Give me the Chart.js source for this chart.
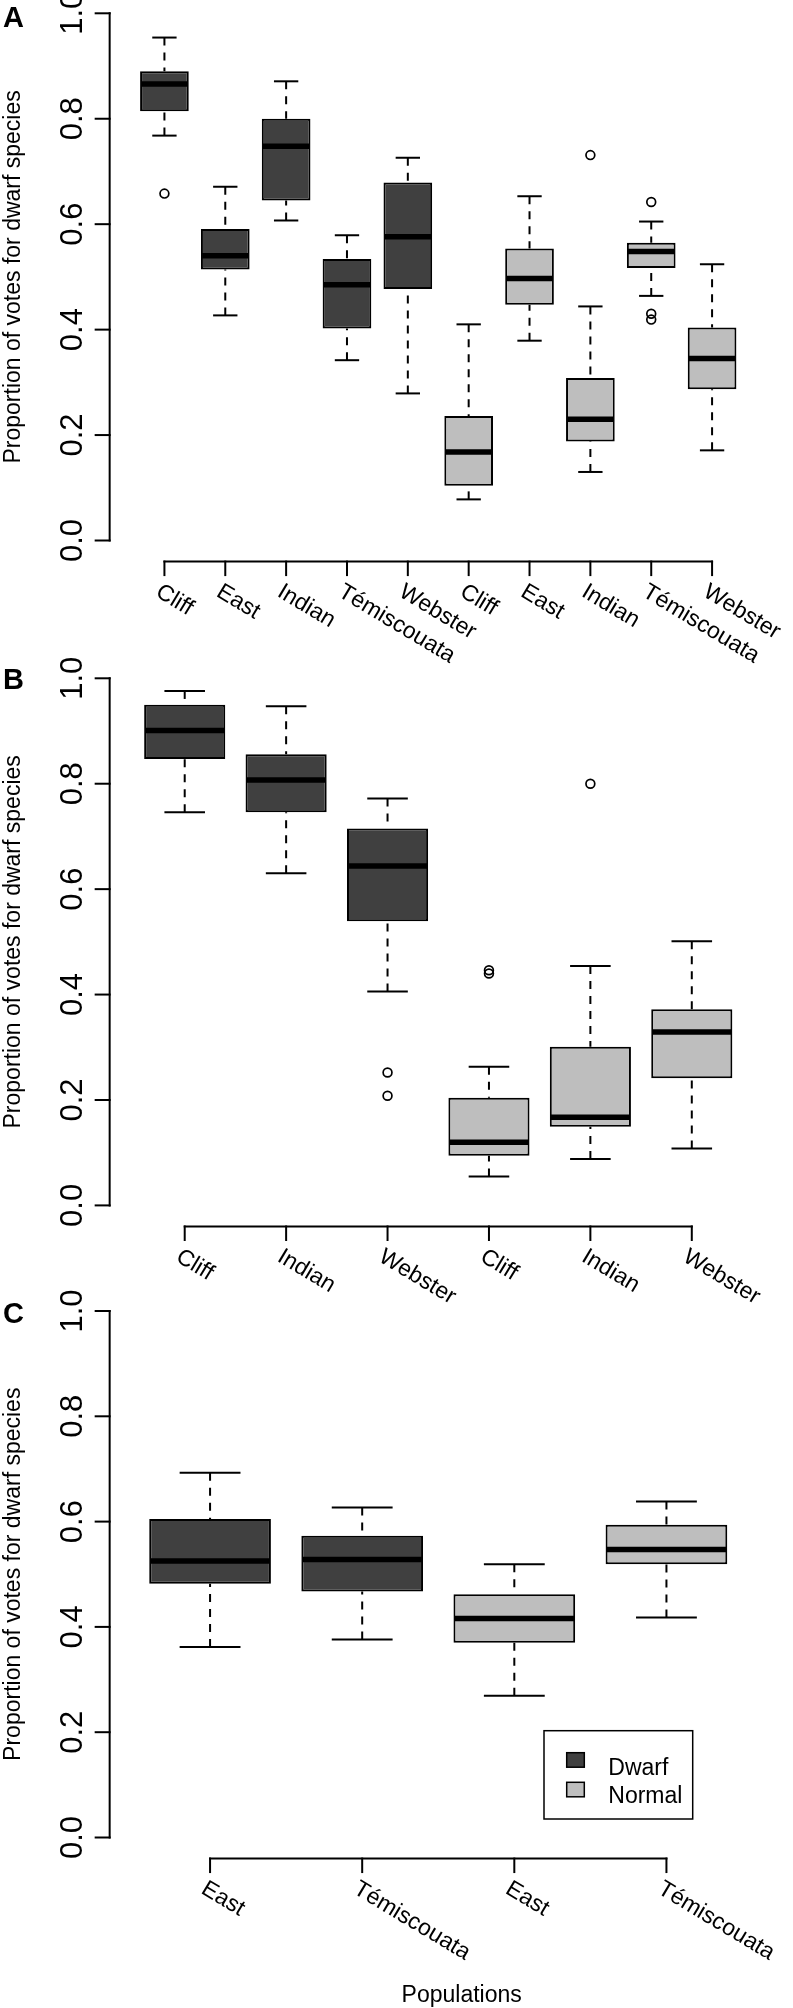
<!DOCTYPE html>
<html>
<head>
<meta charset="utf-8">
<script src="https://cdn.jsdelivr.net/npm/chart.js@4.4.1/dist/chart.umd.min.js"></script>
<style>
  html, body { margin: 0; padding: 0; background: #ffffff; width: 793px; height: 2008px; overflow: hidden; }
  canvas { position: absolute; left: 0; top: 0; }
</style>
</head>
<body>
<canvas id="chartA" width="793" height="2008"></canvas>
<canvas id="chartB" width="793" height="2008"></canvas>
<canvas id="chartC" width="793" height="2008"></canvas>
<script>
// ---------------- data ----------------
const yTickValues = [0, 0.2, 0.4, 0.6, 0.8, 1.0];
const yTickLabels = ['0.0', '0.2', '0.4', '0.6', '0.8', '1.0'];
const groupNames = ['Dwarf', 'Normal'];
const yTitle = 'Proportion of votes for dwarf species';
const xTitle = 'Populations';

// Panel A
const popsA   = ['Cliff', 'East', 'Indian', 'Témiscouata', 'Webster', 'Cliff', 'East', 'Indian', 'Témiscouata', 'Webster'];
const groupsA = ['Dwarf', 'Dwarf', 'Dwarf', 'Dwarf', 'Dwarf', 'Normal', 'Normal', 'Normal', 'Normal', 'Normal'];
const lowA    = [0.768, 0.427, 0.607, 0.342, 0.279, 0.078, 0.379, 0.130, 0.464, 0.171];
const q1A     = [0.814, 0.514, 0.645, 0.402, 0.477, 0.104, 0.447, 0.188, 0.517, 0.287];
const medA    = [0.866, 0.540, 0.748, 0.485, 0.576, 0.168, 0.497, 0.230, 0.548, 0.345];
const q3A     = [0.890, 0.591, 0.800, 0.534, 0.679, 0.236, 0.554, 0.308, 0.565, 0.404];
const highA   = [0.954, 0.671, 0.871, 0.579, 0.726, 0.410, 0.653, 0.444, 0.605, 0.524];
const outIdxA = [0, 7, 8, 8, 8];
const outValA = [0.658, 0.731, 0.642, 0.430, 0.419];

// Panel B
const popsB   = ['Cliff', 'Indian', 'Webster', 'Cliff', 'Indian', 'Webster'];
const groupsB = ['Dwarf', 'Dwarf', 'Dwarf', 'Normal', 'Normal', 'Normal'];
const lowB    = [0.746, 0.630, 0.406, 0.055, 0.088, 0.108];
const q1B     = [0.847, 0.746, 0.539, 0.094, 0.149, 0.241];
const medB    = [0.901, 0.807, 0.644, 0.120, 0.167, 0.329];
const q3B     = [0.950, 0.856, 0.715, 0.204, 0.301, 0.372];
const highB   = [0.976, 0.947, 0.772, 0.263, 0.454, 0.501];
const outIdxB = [2, 2, 3, 3, 4];
const outValB = [0.252, 0.208, 0.446, 0.440, 0.800];

// Panel C
const popsC   = ['East', 'Témiscouata', 'East', 'Témiscouata'];
const groupsC = ['Dwarf', 'Dwarf', 'Normal', 'Normal'];
const lowC    = [0.362, 0.376, 0.269, 0.418];
const q1C     = [0.482, 0.467, 0.370, 0.519];
const medC    = [0.525, 0.528, 0.416, 0.547];
const q3C     = [0.605, 0.573, 0.462, 0.594];
const highC   = [0.693, 0.627, 0.519, 0.638];
const outIdxC = [];
const outValC = [];

// ---------------- styling ----------------
const FILL = { Dwarf: '#404040', Normal: '#bebebe' };
const FONT = "'Liberation Sans', Arial, Helvetica, sans-serif";
const PAGE_W = 793, PAGE_H = 2008;
const AREA_LEFT = 134, AREA_RIGHT = 742.5;

function line(ctx, x1, y1, x2, y2) {
  ctx.beginPath(); ctx.moveTo(x1, y1); ctx.lineTo(x2, y2); ctx.stroke();
}

function makePlugin(o) {
  return {
    id: 'rbox' + o.letter,
    afterDatasetsDraw(chart) {
      const ctx = chart.ctx, ys = chart.scales.y;
      const meta = chart.getDatasetMeta(0);
      ctx.save();
      ctx.strokeStyle = '#000';
      meta.data.forEach((bar, i) => {
        const x = bar.x, w = bar.width;
        const yl = ys.getPixelForValue(o.low[i]);
        const yq1 = ys.getPixelForValue(o.q1[i]);
        const ym = ys.getPixelForValue(o.med[i]);
        const yq3 = ys.getPixelForValue(o.q3[i]);
        const yh = ys.getPixelForValue(o.high[i]);
        ctx.lineWidth = 2;
        ctx.lineCap = 'butt';
        ctx.setLineDash([8, 7]);
        line(ctx, x, yh, x, yq3);
        line(ctx, x, yl, x, yq1);
        ctx.setLineDash([]);
        line(ctx, x - w / 4, yh, x + w / 4, yh);
        line(ctx, x - w / 4, yl, x + w / 4, yl);
        ctx.lineWidth = 5.5;
        line(ctx, x - w / 2 + 1, ym, x + w / 2 - 1, ym);
      });
      ctx.restore();
    },
    afterDraw(chart) {
      const ctx = chart.ctx, xs = chart.scales.x, ys = chart.scales.y;
      const n = o.pops.length;
      const axisX = xs.getPixelForValue(-0.5 - 0.04 * n);
      const axisY = ys.getPixelForValue(-0.04);
      const yTop = ys.getPixelForValue(1), yBot = ys.getPixelForValue(0);
      ctx.save();
      ctx.strokeStyle = '#000';
      ctx.fillStyle = '#000';
      ctx.lineWidth = 2;
      ctx.lineCap = 'square';
      // y axis
      line(ctx, axisX, yBot, axisX, yTop);
      yTickValues.forEach(v => {
        const py = ys.getPixelForValue(v);
        line(ctx, axisX, py, axisX - 14, py);
      });
      // x axis
      const firstX = xs.getPixelForValue(0), lastX = xs.getPixelForValue(n - 1);
      line(ctx, firstX, axisY, lastX, axisY);
      for (let i = 0; i < n; i++) {
        const px = xs.getPixelForValue(i);
        line(ctx, px, axisY, px, axisY + 13.5);
      }
      // y tick labels (rotated, parallel to axis)
      ctx.font = '31px ' + FONT;
      ctx.textAlign = 'center';
      ctx.textBaseline = 'alphabetic';
      yTickValues.forEach((v, k) => {
        const py = ys.getPixelForValue(v);
        ctx.save();
        ctx.translate(81.5, py);
        ctx.rotate(-Math.PI / 2);
        ctx.fillText(yTickLabels[k], 0, 0);
        ctx.restore();
      });
      // y title
      ctx.font = '23px ' + FONT;
      ctx.save();
      ctx.translate(20, (yTop + yBot) / 2);
      ctx.rotate(-Math.PI / 2);
      ctx.fillText(yTitle, 0, 0);
      ctx.restore();
      // category labels, rotated clockwise
      ctx.font = '23px ' + FONT;
      ctx.textAlign = 'left';
      const ang = 31 * Math.PI / 180;
      for (let i = 0; i < n; i++) {
        const px = xs.getPixelForValue(i);
        ctx.save();
        ctx.translate(px - 10, axisY + 34);
        ctx.rotate(ang);
        ctx.fillText(o.pops[i], 0, 0);
        ctx.restore();
      }
      // panel letter
      ctx.font = 'bold 29px ' + FONT;
      ctx.textAlign = 'left';
      ctx.fillText(o.letter, 3, yTop + o.letterDy);
      if (o.legend) {
        // legend box
        ctx.lineWidth = 1.5;
        ctx.lineCap = 'butt';
        ctx.strokeRect(544, 1730.7, 148.7, 88.3);
        const rows = [1752.7, 1782.3];
        ctx.font = '23px ' + FONT;
        groupNames.forEach((g, k) => {
          ctx.fillStyle = FILL[g];
          ctx.fillRect(566.7, rows[k], 17.6, 14.5);
          ctx.strokeRect(566.7, rows[k], 17.6, 14.5);
          ctx.fillStyle = '#000';
          ctx.fillText(g, 608.3, [1775, 1803.3][k]);
        });
        // x title
        ctx.textAlign = 'center';
        ctx.fillText(xTitle, 461.7, 2001.5);
      }
      ctx.restore();
    }
  };
}

function makePanel(id, o) {
  const keys = o.pops.map((p, i) => o.groups[i] + ':' + p);
  new Chart(document.getElementById(id), {
    type: 'bar',
    data: {
      labels: keys,
      datasets: [
        {
          type: 'bar',
          data: o.q1.map((v, i) => [v, o.q3[i]]),
          backgroundColor: o.groups.map(g => FILL[g]),
          borderColor: '#000000',
          borderWidth: 2,
          borderSkipped: false,
          barPercentage: 0.8,
          categoryPercentage: 1.0,
          order: 2
        },
        {
          type: 'line',
          data: o.outIdx.map((k, j) => ({ x: keys[k], y: o.outVal[j] })),
          showLine: false,
          pointStyle: 'circle',
          pointRadius: 4.4,
          pointBackgroundColor: 'rgba(0,0,0,0)',
          pointBorderColor: '#000000',
          pointBorderWidth: 1.7,
          clip: false,
          order: 1
        }
      ]
    },
    options: {
      responsive: false,
      animation: false,
      devicePixelRatio: 1,
      events: [],
      layout: { padding: { left: AREA_LEFT, right: PAGE_W - AREA_RIGHT, top: o.top, bottom: PAGE_H - o.bottom } },
      plugins: { legend: { display: false }, tooltip: { enabled: false } },
      scales: {
        x: { type: 'category', display: false, offset: true, ticks: { autoSkip: false } },
        y: { type: 'linear', display: false, min: 0, max: 1 }
      }
    },
    plugins: [makePlugin(o)]
  });
}

makePanel('chartA', { letter: 'A', letterDy: 13.4, top: 13.3, bottom: 540.5, legend: false,
  pops: popsA, groups: groupsA, low: lowA, q1: q1A, med: medA, q3: q3A, high: highA, outIdx: outIdxA, outVal: outValA });
makePanel('chartB', { letter: 'B', letterDy: 10.5, top: 678.3, bottom: 1205.4, legend: false,
  pops: popsB, groups: groupsB, low: lowB, q1: q1B, med: medB, q3: q3B, high: highB, outIdx: outIdxB, outVal: outValB });
makePanel('chartC', { letter: 'C', letterDy: 12.3, top: 1311, bottom: 1837.5, legend: true,
  pops: popsC, groups: groupsC, low: lowC, q1: q1C, med: medC, q3: q3C, high: highC, outIdx: outIdxC, outVal: outValC });
</script>
</body>
</html>
